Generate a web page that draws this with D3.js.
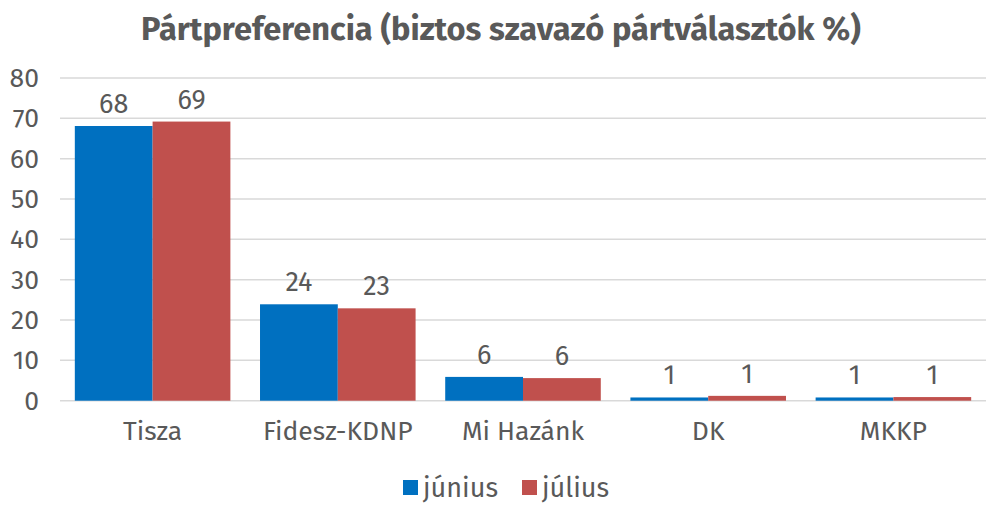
<!DOCTYPE html>
<html>
<head>
<meta charset="utf-8">
<script src="https://cdn.jsdelivr.net/npm/d3@7"></script>
<style>
  html, body { margin: 0; padding: 0; background: #fff; }
  svg text { font-family: "Fira Sans", "Open Sans", "Noto Sans", sans-serif; fill: #595959; }
</style>
</head>
<body>
<svg id="chart" width="1000" height="519"></svg>
<script>
const categories = ["Tisza", "Fidesz-KDNP", "Mi Hazánk", "DK", "MKKP"];
const seriesNames = ["június", "július"];
const junius = [68.1, 23.9, 5.9, 0.8, 0.8];
const julius = [69.2, 22.9, 5.6, 1.2, 0.9];
const yTicks = [0, 10, 20, 30, 40, 50, 60, 70, 80];
const colors = ["#0070C0", "#C0504D"];

const series = [junius, julius];
const svg = d3.select("#chart");
const margin = { top: 78, right: 14, bottom: 118, left: 60 };
const width = 1000, height = 519;

const x = d3.scaleBand()
  .domain(categories)
  .range([margin.left, width - margin.right])
  .paddingInner(0.16)
  .paddingOuter(0.08);

const xSub = d3.scaleBand()
  .domain(seriesNames)
  .range([0, x.bandwidth()]);

const y = d3.scaleLinear()
  .domain([0, 80])
  .range([height - margin.bottom - 0.3, margin.top]);

// title
svg.append("text")
  .attr("x", 501)
  .attr("y", 40)
  .attr("text-anchor", "middle")
  .attr("font-size", 32.6)
  .attr("font-weight", "bold")
  .text("Pártpreferencia (biztos szavazó pártválasztók %)");

// gridlines
svg.append("g")
  .selectAll("line")
  .data(yTicks)
  .join("line")
  .attr("x1", margin.left)
  .attr("x2", width - margin.right)
  .attr("y1", d => y(d))
  .attr("y2", d => y(d))
  .attr("stroke", "#d9d9d9")
  .attr("stroke-width", 1.5);

// y axis
const yAxis = svg.append("g")
  .attr("transform", `translate(${margin.left - 21},0)`)
  .call(d3.axisLeft(y).tickValues(yTicks).tickSize(0).tickPadding(0));
yAxis.select(".domain").remove();
yAxis.selectAll("text")
  .attr("font-size", 26.5)
  .attr("fill", "#595959")
  .style("font-family", null);

// bars
const groups = svg.append("g")
  .selectAll("g")
  .data(categories)
  .join("g")
  .attr("transform", d => `translate(${x(d)},0)`);

groups.selectAll("rect")
  .data((d, i) => series.map((s, j) => ({ name: seriesNames[j], value: s[i], color: colors[j] })))
  .join("rect")
  .attr("x", d => xSub(d.name))
  .attr("y", d => y(d.value))
  .attr("width", xSub.bandwidth())
  .attr("height", d => y(0) - y(d.value))
  .attr("fill", d => d.color);

groups.selectAll("text.val")
  .data((d, i) => series.map((s, j) => ({ name: seriesNames[j], value: s[i] })))
  .join("text")
  .attr("class", "val")
  .attr("x", d => xSub(d.name) + xSub.bandwidth() / 2)
  .attr("y", d => y(d.value) - 13)
  .attr("text-anchor", "middle")
  .attr("font-size", 27)
  .text(d => d3.format(".0f")(d.value));

// x axis
const xAxis = svg.append("g")
  .attr("transform", `translate(0,${y(0) + 20})`)
  .call(d3.axisBottom(x).tickSize(0).tickPadding(0));
xAxis.select(".domain").remove();
xAxis.selectAll("text")
  .attr("font-size", 26.5)
  .attr("fill", "#595959")
  .attr("dy", "0.71em")
  .style("font-family", null);

// legend
const legend = svg.append("g").attr("transform", "translate(403,480)");
const lx = [0, 119];
seriesNames.forEach((n, i) => {
  const g = legend.append("g").attr("transform", `translate(${lx[i]},0)`);
  g.append("rect").attr("width", 15).attr("height", 15).attr("fill", colors[i]);
  g.append("text").attr("x", 20).attr("y", 17).attr("font-size", 27).text(n);
});
</script>
</body>
</html>
